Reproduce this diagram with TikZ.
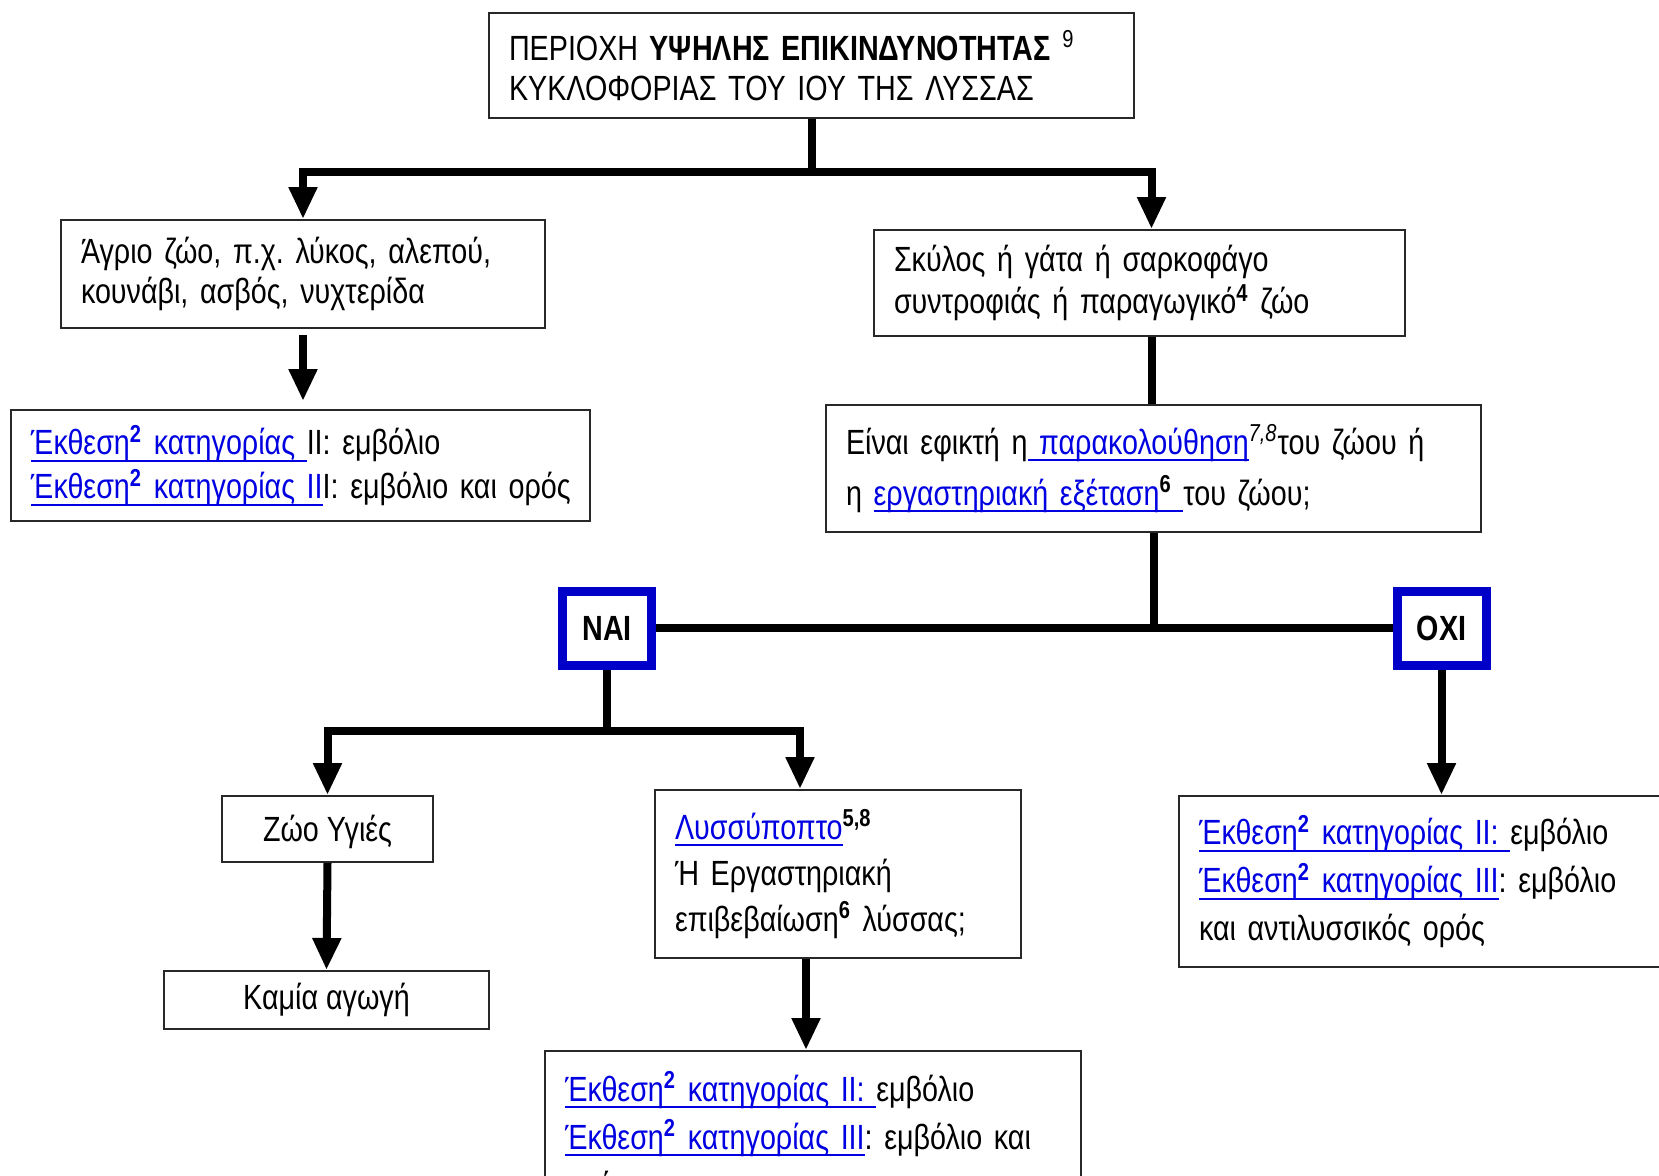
\documentclass[tikz,border=0pt]{standalone}
\usepackage{fontspec}
\setmainfont{Liberation Sans}[FakeStretch=0.82]
\usetikzlibrary{arrows.meta}
\definecolor{linkblue}{RGB}{0,0,225}
\definecolor{boxgray}{RGB}{40,40,40}
\definecolor{answerblue}{RGB}{0,0,200}
\newcommand\boxfont[1]{\fontsize{17.5pt}{#1}\selectfont\frenchspacing}
\newcommand\lnk[1]{\leavevmode{\color{linkblue}\setbox0\hbox{#1}\rlap{\rule[-3.5pt]{\wd0}{0.9pt}}\box0}}
\newcommand\expo{\textsuperscript{\textbf{2}}}
\begin{document}
\begin{tikzpicture}[x=0.5pt,y=-0.5pt,
    box/.style={draw=boxgray,line width=1pt,inner xsep=10pt,inner ysep=0pt,align=left},
    cbox/.style={draw=boxgray,line width=1pt,align=center,font=\boxfont{20pt}},
    answer/.style={draw=answerblue,line width=4.5pt,minimum width=44.5pt,minimum height=37pt,inner sep=0pt,font=\boxfont{20pt}\bfseries},
    stem/.style={line width=4pt},
    arr/.style={line width=4pt,-{Triangle[length=16pt,width=13.5pt]}}]
\useasboundingbox (0,0) rectangle (1659,1175);
\clip (0,0) rectangle (1659,1175);
% boxes
\node[box,text width=302.5pt,minimum height=52.5pt,font=\boxfont{20pt}] (top) at (811.5,65.5)
  {ΠΕΡΙΟΧΗ \textbf{ΥΨΗΛΗΣ ΕΠΙΚΙΝΔΥΝΟΤΗΤΑΣ} \textsuperscript{9}\\ ΚΥΚΛΟΦΟΡΙΑΣ ΤΟΥ ΙΟΥ ΤΗΣ ΛΥΣΣΑΣ};
\node[box,text width=222pt,minimum height=54pt,font=\boxfont{20pt}] (wild) at (303,274)
  {Άγριο ζώο, π.χ. λύκος, αλεπού,\\ κουνάβι, ασβός, νυχτερίδα};
\node[box,text width=269.5pt,minimum height=55.5pt,font=\boxfont{22pt}] (catI) at (300.5,465.5)
  {\lnk{Έκθεση\expo{} κατηγορίας }II: εμβόλιο\\ \mbox{\lnk{Έκθεση\expo{} κατηγορίας II}I: εμβόλιο και ορός}};
\node[box,text width=245.5pt,minimum height=53pt,font=\boxfont{21pt}] (pet) at (1139.5,283)
  {Σκύλος ή γάτα ή σαρκοφάγο\\ συντροφιάς ή παραγωγικό\textsuperscript{\textbf{4}} ζώο};
\node[box,text width=307.5pt,minimum height=63.5pt,font=\boxfont{25.5pt}] (check) at (1153.5,468.5)
  {Είναι εφικτή η\lnk{ παρακολούθηση}\textsuperscript{\textit{7,8}}του ζώου ή\\ η \lnk{εργαστηριακή εξέταση\textcolor{black}{\textsuperscript{\textbf{6}}} }του ζώου;};
\node[answer] (yes) at (607,628) {ΝΑΙ};
\node[answer] (no) at (1441.5,628) {ΟΧΙ};
\node[cbox,minimum width=105.5pt,minimum height=33pt,text depth=1pt] (healthy) at (327.5,829) {Ζώο Υγιές};
\node[cbox,minimum width=162.5pt,minimum height=29pt] (none) at (326.5,1000) {Καμία αγωγή};
\node[box,text width=163pt,minimum height=84pt,font=\boxfont{23pt}] (suspect) at (838,874)
  {\lnk{Λυσσύποπτο}\textsuperscript{\textbf{5,8}}\\ Ή Εργαστηριακή\\ επιβεβαίωση\textsuperscript{\textbf{6}} λύσσας;};
\node[box,text width=248pt,minimum height=87pt,font=\boxfont{24pt}] (catIII) at (813,1138)
  {\lnk{Έκθεση\expo{} κατηγορίας II: }εμβόλιο\\ \lnk{Έκθεση\expo{} κατηγορίας III}: εμβόλιο και\\ ορός};
\node[box,text width=235.5pt,minimum height=85.5pt,font=\boxfont{24pt}] (catII) at (1434.5,881.5)
  {\lnk{Έκθεση\expo{} κατηγορίας II: }εμβόλιο\\ \lnk{Έκθεση\expo{} κατηγορίας III}: εμβόλιο\\ και αντιλυσσικός ορός};
% connectors
\draw[stem] (top.south) -- ++(0,53) coordinate (fork1);
\draw[arr] (fork1) -| (wild.north);
\draw[arr] (fork1) -| ([xshift=6pt]pet.north);
\draw[arr,shorten <=3pt,shorten >=4pt] (wild.south) -- (wild.south |- catI.north);
\draw[stem] ([xshift=6pt]pet.south) -- ([xshift=6pt]pet.south |- check.north);
\draw[stem] (check.south) -- (check.south |- yes.east);
\draw[stem] (yes.east) -- (no.west);
\draw[stem] (yes.south) -- ++(0,61) coordinate (fork2);
\draw[arr] (fork2) -| (healthy.north);
\draw[arr] (fork2) -| ([xshift=-19pt]suspect.north);
\draw[arr] (healthy.south) -- (none.north);
\draw[arr] ([xshift=-16pt]suspect.south) -- ([xshift=-16pt]suspect.south |- catIII.north);
\draw[arr] (no.south) -- (no.south |- catII.north);
\end{tikzpicture}
\end{document}
